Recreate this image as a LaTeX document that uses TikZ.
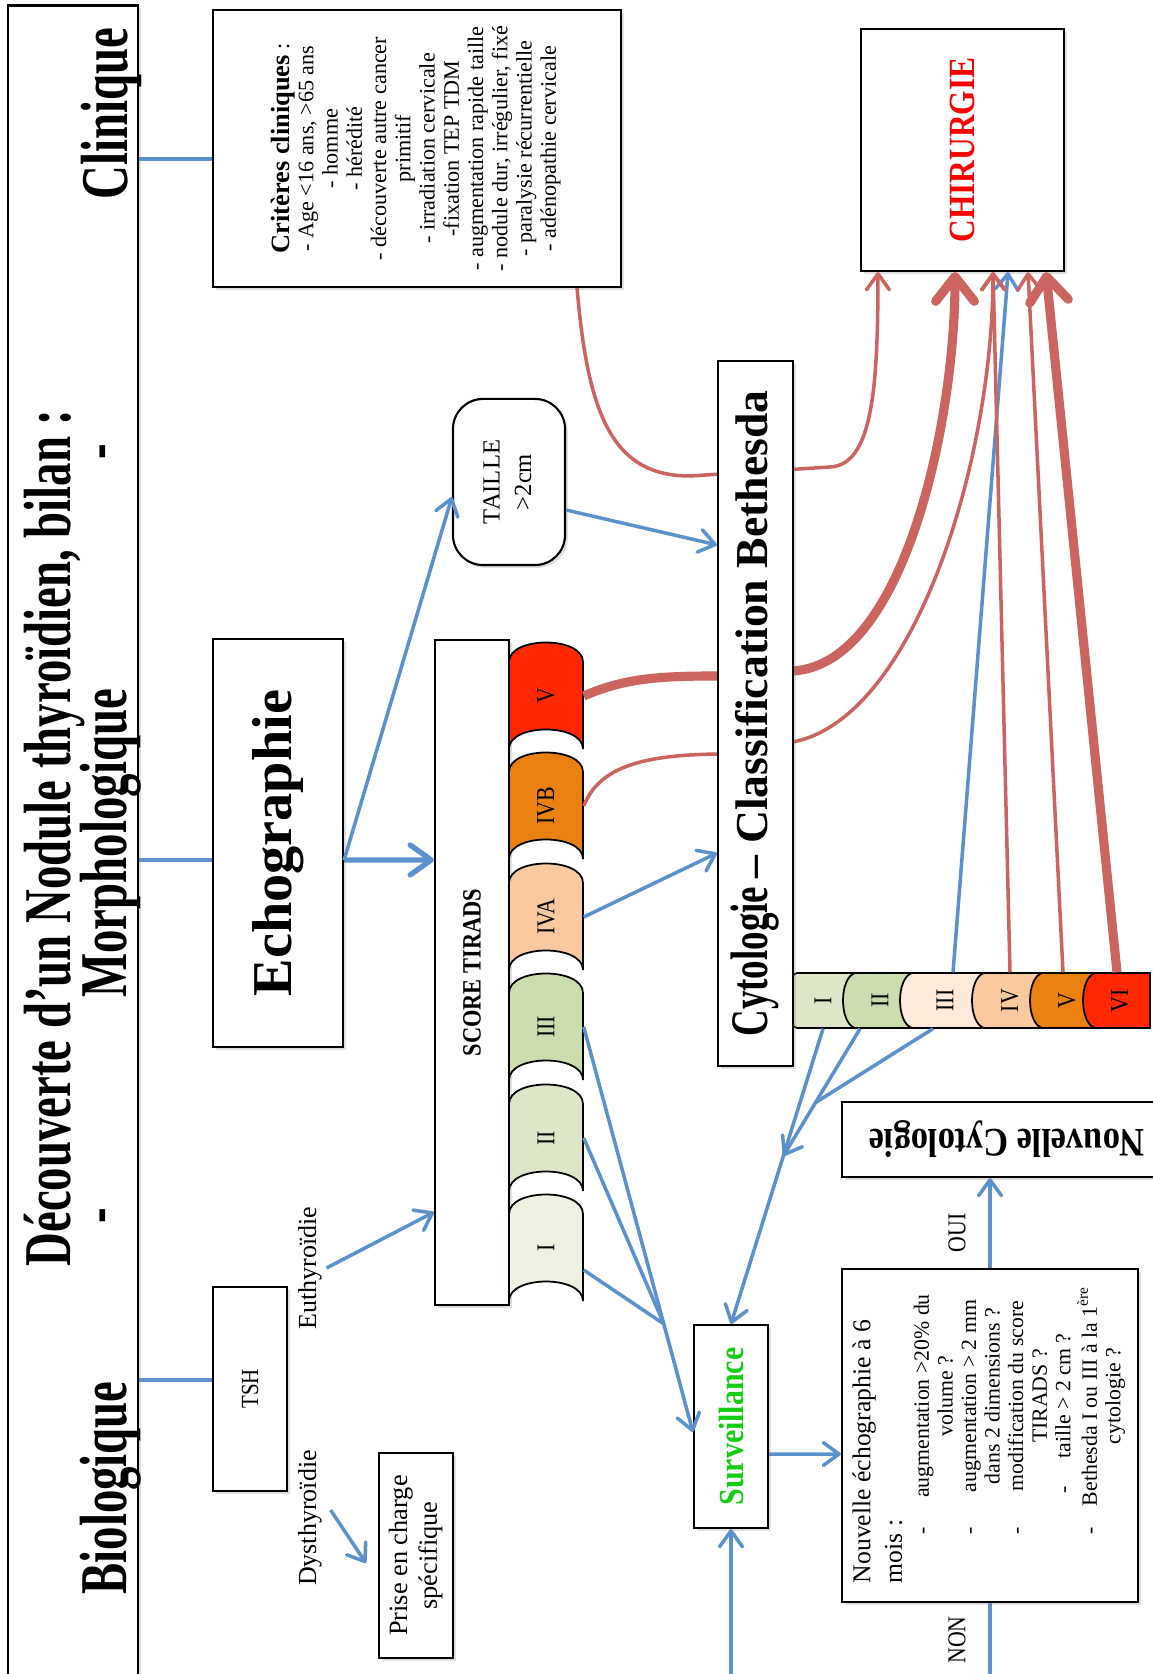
\documentclass[tikz,border=0pt]{standalone}
\usepackage{fontspec}
\setmainfont{Liberation Serif}
\newfontfamily\condfont[FakeStretch=0.7]{Liberation Serif}
\newfontfamily\semicond[FakeStretch=0.85]{Liberation Serif}
\usepackage{graphicx}
\usetikzlibrary{arrows.meta,calc,shadows}
\definecolor{bluel}{RGB}{91,145,204}
\definecolor{redl}{RGB}{204,100,96}
\definecolor{tirV}{RGB}{255,40,0}
\definecolor{tirIVB}{RGB}{233,128,16}
\definecolor{tirIVA}{RGB}{250,201,160}
\definecolor{tirIII}{RGB}{204,221,173}
\definecolor{tirII}{RGB}{222,230,201}
\definecolor{tirI}{RGB}{236,241,226}
\definecolor{bethIII}{RGB}{253,234,218}
\definecolor{survgreen}{RGB}{20,205,20}
\newcommand{\fsz}[2]{\fontsize{#1}{#2}\selectfont}
% TIRADS tab: colour, top y, label, name
\newcommand{\tiradstab}[4]{%
  \filldraw[fill=#1, line width=.5pt] (509,#2+20) .. controls (509,#2-6) and (583,#2-6) .. (583,#2+20)
    -- (583,#2+107) .. controls (583,#2+81) and (509,#2+81) .. (509,#2+107) -- cycle;
  \node[tablabel, minimum width=.74cm, minimum height=.87cm] (#4) at (546,#2+54) {\rotatebox{90}{#3}};}
% Bethesda tab: colour, left apex, right end, label x, label, name
\newcommand{\bethtab}[6]{%
  \filldraw[fill=#1, line width=.5pt] (#2+12,973) .. controls (#2-4,978) and (#2-4,1023) .. (#2+12,1028)
    -- (#3,1028) -- (#3,973) -- cycle;
  \node[tablabel, minimum height=.55cm] (#6) at (#4,1000.5) {\rotatebox{90}{#5}};}
\newcommand{\itm}[1]{\makebox[1.04cm][c]{-}\makebox[1.66cm][c]{#1}\hspace{.25cm}}
\newcommand{\itmc}[1]{\hspace{1.04cm}\makebox[1.66cm][c]{#1}\hspace{.25cm}}
\newcommand{\itmt}[1]{\hspace{1.04cm}\makebox[1.66cm][c]{\llap{-\hspace{.28cm}}#1}\hspace{.25cm}}

\begin{document}
\begin{tikzpicture}[x=0.01cm, y=-0.01cm,
  panel/.style={draw, line width=.6pt, fill=white, inner sep=0pt,
    drop shadow={opacity=.25, shadow xshift=.8pt, shadow yshift=-.8pt}},
  ttl/.style={inner sep=0pt, font=\condfont\bfseries\fsz{19}{20}},
  lbl/.style={inner sep=0pt, font=\fsz{7.4}{8}},
  tablabel/.style={inner sep=0pt, font=\semicond\fsz{7.3}{8}},
  blueln/.style={draw=bluel, line width=1pt},
  bluethick/.style={draw=bluel, line width=1.5pt, -{Straight Barb[round,length=6pt,width=8.5pt]}},
  redthin/.style={draw=redl, line width=1pt},
  redthick/.style={draw=redl, line width=2.6pt, -{Straight Barb[round,length=7pt,width=11pt]}},
  >={Straight Barb[round,length=4.5pt,width=6.5pt]}
]
\useasboundingbox (0,0) rectangle (1152,1674);
\fill[white] (0,0) rectangle (1152,1674);

% title band
\node[panel, minimum width=1.3cm, minimum height=16.84cm] (titlebox) at (73,848) {};
\node[ttl] (title) at (54,838) {\rotatebox{90}{Découverte d’un Nodule thyroïdien, bilan :}};
\node[ttl] (bio) at (111,1488) {\rotatebox{90}{Biologique}};
\node[ttl] (dashA) at (109,1216) {\rotatebox{90}{-}};
\node[ttl] (morpho) at (111,843) {\rotatebox{90}{Morphologique}};
\node[ttl] (dashB) at (109,452) {\rotatebox{90}{-}};
\node[ttl] (clin) at (111,114) {\rotatebox{90}{Clinique}};

\node[panel, minimum width=4.08cm, minimum height=2.77cm] (crit) at (417,148.5) {\rotatebox{90}{\fsz{6.3}{6.9}\begin{tabular}{@{}c@{}}
  {\bfseries\fsz{7.5}{6.9}Critères cliniques} :\\
  - Age <16 ans, >65 ans\\
  - homme\\
  - hérédité\\
  - découverte autre cancer\\
  primitif\\
  - irradiation cervicale\\
  -fixation TEP TDM\\
  - augmentation rapide taille\\
  - nodule dur, irrégulier, fixé\\
  - paralysie récurrentielle\\
  - adénopathie cervicale
\end{tabular}}};
\node[panel, minimum width=2.03cm, minimum height=2.42cm] (chir) at (962.5,150)
  {\rotatebox{90}{\semicond\bfseries\fsz{10.5}{12}\color{red}CHIRURGIE}};
\node[panel, minimum width=1.3cm, minimum height=4.08cm] (echo) at (278,843)
  {\rotatebox{90}{\bfseries\fsz{16}{16}Echographie}};
\node[panel, rounded corners=.3cm, minimum width=1.12cm, minimum height=1.66cm] (taille) at (509,482)
  {\rotatebox{90}{\fsz{7}{9}\begin{tabular}{@{}c@{}}TAILLE\\>2cm\end{tabular}}};
\node[panel, minimum width=.74cm, minimum height=6.65cm] (tirads) at (472,972.5)
  {\rotatebox{90}{\semicond\bfseries\fsz{7.5}{8}SCORE TIRADS}};
\node[panel, minimum width=.74cm, minimum height=2.04cm] (tsh) at (250,1389)
  {\rotatebox{90}{\semicond\fsz{7}{8}TSH}};
\node[lbl] (euthy) at (310,1268) {\rotatebox{90}{Euthyroïdie}};
\node[lbl] (dysthy) at (310,1518) {\rotatebox{90}{Dysthyroïdie}};
\node[panel, minimum width=.74cm, minimum height=2.05cm] (prise) at (416,1555.5)
  {\rotatebox{90}{\fsz{7.5}{8.5}\begin{tabular}{@{}c@{}}Prise en charge\\spécifique\end{tabular}}};
\node[panel, minimum width=.74cm, minimum height=2.03cm] (surv) at (731,1426.5)
  {\rotatebox{90}{\semicond\bfseries\fsz{10}{11}\color{survgreen}Surveillance}};
\node[panel, minimum width=2.96cm, minimum height=3.33cm] (echo6) at (990,1435.5) {\rotatebox{90}{\fsz{6.2}{6.7}\begin{tabular}{@{}l@{}}
  {\fsz{7.3}{6.7}Nouvelle échographie à 6}\\[2.1pt]
  {\fsz{7.3}{6.7}mois :}\\[1pt]
  \itm{augmentation >20\% du}\\
  \itmc{volume ?}\\
  \itm{augmentation > 2 mm}\\
  \itmc{dans 2 dimensions ?}\\
  \itm{modification du score}\\
  \itmc{TIRADS ?}\\
  \itmt{taille > 2 cm ?}\\
  \itm{Bethesda I ou III à la 1\textsuperscript{ère}}\\
  \itmc{cytologie ?}
\end{tabular}}};
\node[panel, minimum width=3.18cm, minimum height=.75cm] (ncyto) at (1001,1139.5)
  {\hspace{.12cm}\rotatebox{180}{\semicond\bfseries\fsz{11.5}{12}Nouvelle Cytologie}};
\node[tablabel] (oui) at (957,1233) {\rotatebox{90}{OUI}};
\node[tablabel] (non) at (957,1640) {\rotatebox{90}{NON}};

% TIRADS tabs
\tiradstab{tirV}{642}{V}{tv}
\tiradstab{tirIVB}{752}{IVB}{tivb}
\tiradstab{tirIVA}{863}{IVA}{tiva}
\tiradstab{tirIII}{973}{III}{tiii}
\tiradstab{tirII}{1084}{II}{tii}
\tiradstab{tirI}{1194}{I}{ti}

% Bethesda tabs
\bethtab{tirII}{785}{857}{823}{I}{b1}
\bethtab{tirIII}{843}{914}{880}{II}{b2}
\bethtab{bethIII}{900}{986}{945}{III}{b3}
\bethtab{tirIVA}{972}{1044}{1010}{IV}{b4}
\bethtab{tirIVB}{1030}{1097}{1067}{V}{b5}
\bethtab{tirV}{1083}{1150}{1120}{VI}{b6}

% to surgery
\draw[redthin,->] ([xshift=1.6cm]crit.south) .. controls (588,420) and (615,476) .. (690,476)
  -- (830,467) .. controls (872,465) and (878,390) .. ([xshift=-.845cm]chir.south);
\draw[redthick] (tv.east) .. controls (625,678) and (660,676) .. (718,676)
  -- (793,671) .. controls (905,664) and (955,420) .. ([xshift=-.075cm]chir.south);
\draw[redthin,->] (tivb.east) .. controls (600,764) and (650,755) .. (718,754)
  -- (793,742) .. controls (915,718) and (993,460) .. ([xshift=.305cm]chir.south);
\draw[blueln,->] ([xshift=.08cm]b3.north) -- ([xshift=.455cm]chir.south);
\draw[redthin,->] (b4.north) -- ([xshift=.305cm]chir.south);
\draw[redthin,->] ([xshift=-.04cm]b5.north) -- ([xshift=.655cm]chir.south);
\draw[redthick] ([xshift=-.03cm]b6.north) -- ([xshift=.835cm]chir.south);

\node[panel, minimum width=.75cm, minimum height=7.05cm] (cyto) at (755.5,713.5)
  {\rotatebox{90}{{\condfont\bfseries\fsz{15}{15}Cytologie} {\bfseries\fsz{13}{13}– Classification Bethesda}}};

% bilan branches
\coordinate (cliL) at ([yshift=-.105cm]crit.west);
\coordinate (morL) at ([yshift=-.17cm]echo.west);
\coordinate (bioL) at ([yshift=.09cm]tsh.west);
\draw[blueln] (cliL) -- (titlebox.east |- cliL);
\draw[blueln] (morL) -- (titlebox.east |- morL);
\draw[blueln] (bioL) -- (titlebox.east |- bioL);

\coordinate (echoR) at ([yshift=-.17cm]echo.east);
\draw[bluethick] (echoR) -- ([yshift=1.125cm]tirads.west);
\draw[blueln,->] (echoR) -- ([yshift=-.15cm]taille.west);
\draw[blueln,->] ([yshift=-.28cm]taille.east) -- ([yshift=1.685cm]cyto.west);
\draw[blueln,->] (tiva.east) -- ([yshift=-1.395cm]cyto.west);
\draw[blueln,->] ([xshift=.04cm]euthy.east) -- ([yshift=-2.395cm]tirads.west);
\draw[blueln,->] ([xshift=.08cm,yshift=.08cm]dysthy.east) -- ([xshift=-.12cm,yshift=-.075cm]prise.west);

% surveillance
\coordinate (survL) at ([yshift=-.055cm]surv.west);
\draw[blueln,->] (tiii.east) -- (survL);
\coordinate (m1) at ($(tiii.east)!0.733!(survL)$);
\draw[blueln] (tii.east) -- (m1);
\draw[blueln] ([yshift=-.22cm]ti.east) -- (m1);

\draw[blueln,->] (b1.south) -- (surv.north);
\coordinate (m2) at ($(b1.south)!0.431!(surv.north)$);
\coordinate (b2s) at ([xshift=-.2cm]b2.south);
\draw[blueln,->] (b2s) -- (m2);
\coordinate (m3) at ($(b2s)!0.58!(m2)$);
\draw[blueln] ([xshift=-.12cm]b3.south) -- (m3);

\draw[blueln,->] ([yshift=-.275cm]surv.east) -- ([yshift=-.185cm]echo6.west);
\draw[blueln,->] (echo6.north) -- (echo6.north |- ncyto.south);
\draw[blueln,->] (echo6.south) -- ++(0,-1cm) -| (surv.south);
\end{tikzpicture}
\end{document}
